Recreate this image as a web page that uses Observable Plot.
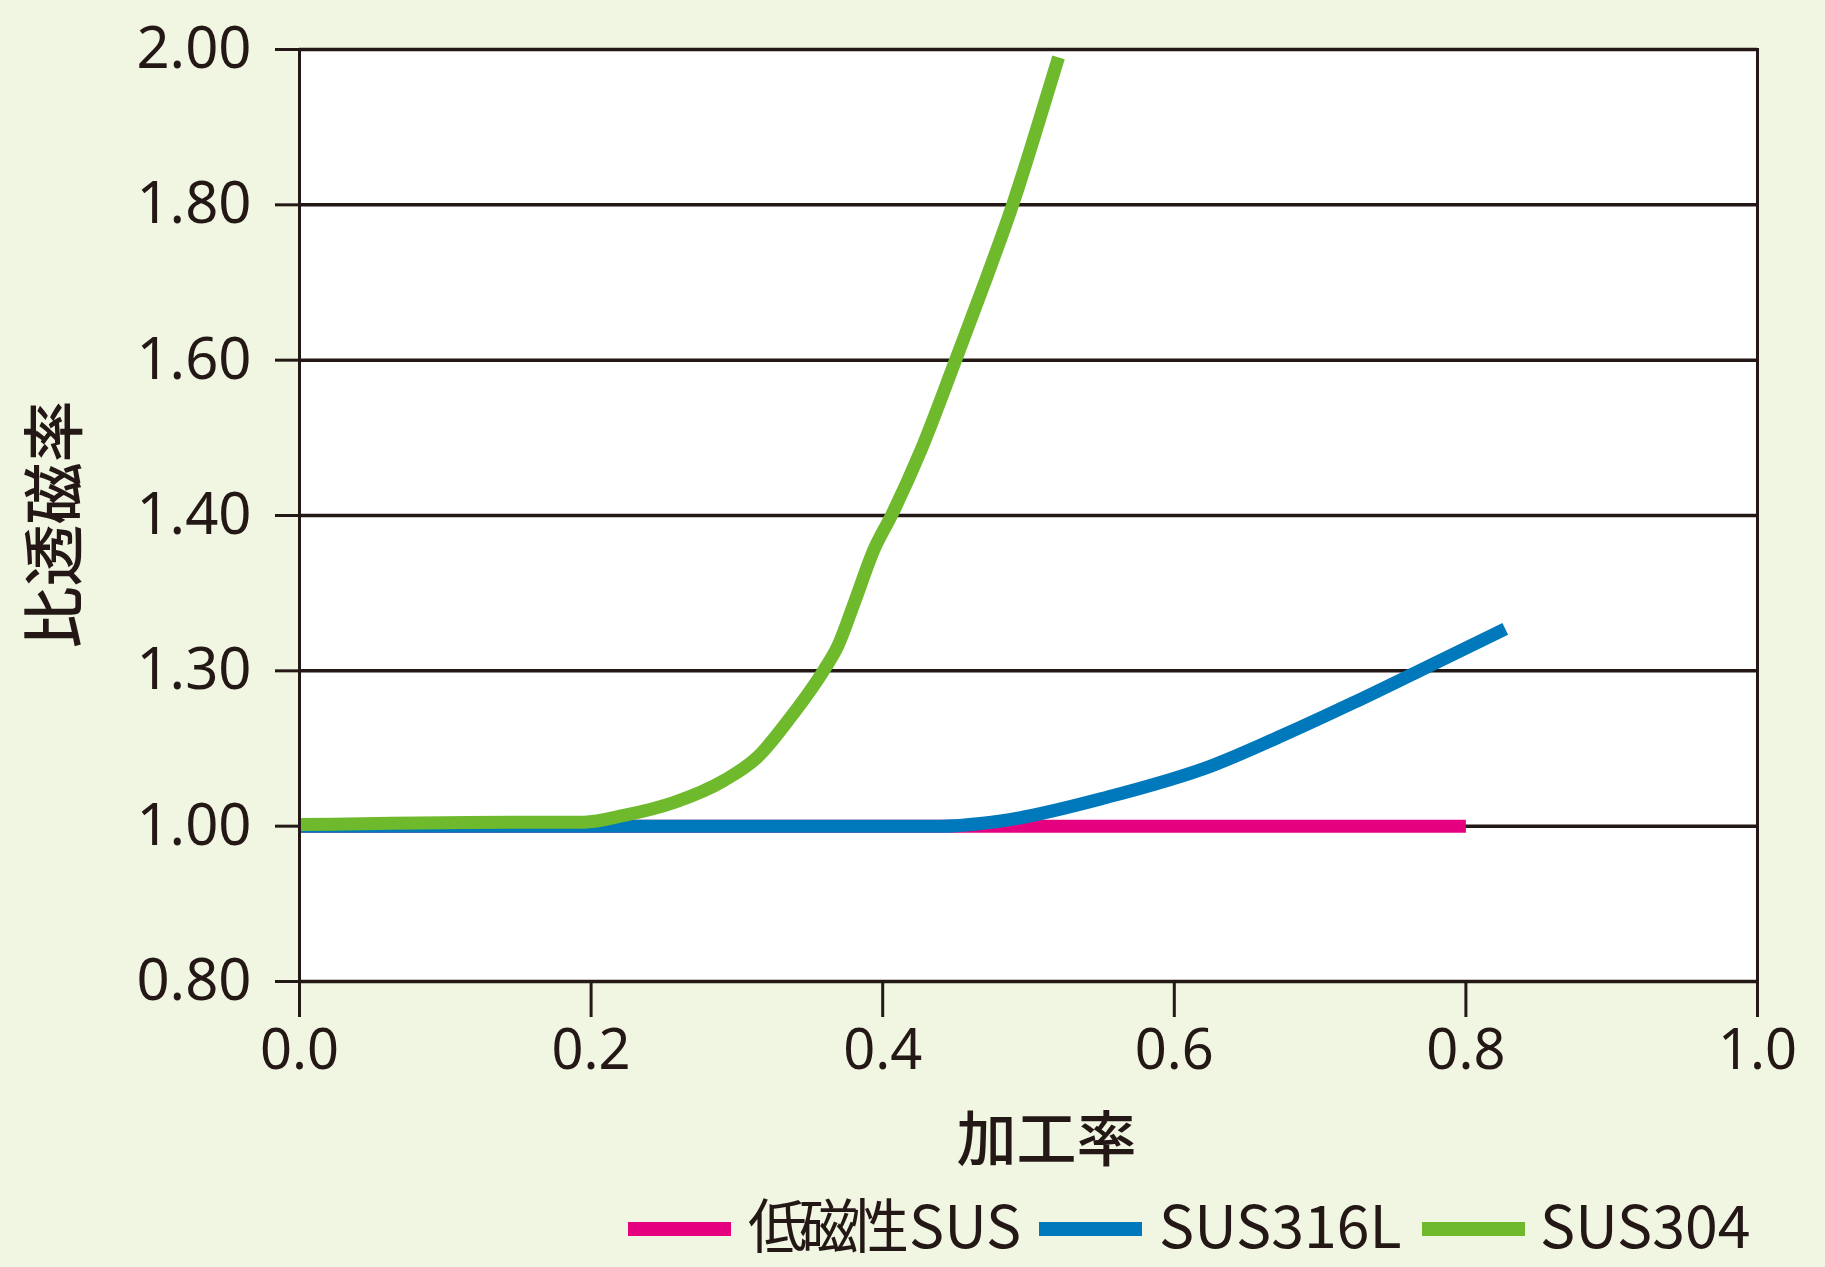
<!DOCTYPE html>
<html>
<head>
<meta charset="utf-8">
<script src="https://cdn.jsdelivr.net/npm/d3@7"></script>
<script src="https://cdn.jsdelivr.net/npm/@observablehq/plot@0.6"></script>
<style>
  html, body { margin: 0; padding: 0; background: #f1f6e2; }
  #wrap { position: relative; width: 1825px; height: 1267px; overflow: hidden; background: #f1f6e2; }
  #chart svg { display: block; overflow: visible; }
  .sw { position: absolute; height: 14px; width: 103px; top: 1222px; }
  .lt { position: absolute; top: 1199px; font-family: "Noto Sans CJK JP", "Noto Sans", sans-serif; font-size: 59px; line-height: 48px; color: #231815; white-space: nowrap; }
  .cjk { letter-spacing: -8px; margin-right: 8px; }
</style>
</head>
<body>
<div id="wrap">
  <div id="chart"></div>
  <div id="legend"></div>
</div>
<script>
// Data
const xTicks = [0, 0.2, 0.4, 0.6, 0.8, 1.0];
const yTicks = [0.80, 1.00, 1.30, 1.40, 1.60, 1.80, 2.00];
const seriesNames = ["低磁性SUS", "SUS316L", "SUS304"];
const seriesColors = ["#e4007f", "#0079bc", "#6fba2c"];

const lowMagX = [0, 0.8];
const lowMagY = [1.00, 1.00];

const sus316LX = [0, 0.44, 0.481, 0.554, 0.626, 0.674, 0.7225, 0.768, 0.827];
const sus316LY = [1.00, 1.00, 1.010, 1.056, 1.117, 1.175, 1.238, 1.300, 1.327];

const sus304X = [0, 0.1655, 0.195, 0.2225, 0.257, 0.291, 0.314, 0.337, 0.36, 0.369, 0.3806, 0.394, 0.406, 0.426, 0.45, 0.47, 0.49, 0.506, 0.5206];
const sus304Y = [1.003, 1.0077, 1.0077, 1.0207, 1.046, 1.088, 1.133, 1.211, 1.301, 1.3155, 1.344, 1.378, 1.40, 1.483, 1.60, 1.70, 1.805, 1.90, 1.99];

const toRows = (xs, ys, s) => xs.map((x, i) => ({x, y: ys[i], s}));
const rows = [
  ...toRows(lowMagX, lowMagY, seriesNames[0]),
  ...toRows(sus316LX, sus316LY, seriesNames[1]),
  ...toRows(sus304X, sus304Y, seriesNames[2])
];

const W = 1825, H = 1190, mL = 299, mR = 68, mT = 49, mB = 209;
const innerH = H - mT - mB;
const yRange = yTicks.map((d, i) => mT + innerH * (1 - i / (yTicks.length - 1)));
const ink = "#231815";

const chart = Plot.plot({
  width: W,
  height: H,
  marginLeft: mL,
  marginRight: mR,
  marginTop: mT,
  marginBottom: mB,
  style: {background: "transparent", fontFamily: "'Noto Sans', sans-serif", color: ink},
  x: {domain: [0, 1]},
  y: {type: "linear", domain: yTicks, range: yRange},
  color: {domain: seriesNames, range: seriesColors},
  marks: [
    Plot.frame({fill: "white", stroke: "none"}),
    Plot.ruleY(yTicks, {stroke: ink, strokeWidth: 3.5}),
    Plot.axisY({ticks: yTicks, tickFormat: d3.format(".2f"), tickSize: 24, tickPadding: 24, fontSize: 58, stroke: ink, strokeWidth: 3, fill: ink, label: null}),
    Plot.axisX({ticks: xTicks, tickFormat: d3.format(".1f"), tickSize: 36, tickPadding: 12, fontSize: 56, stroke: ink, strokeWidth: 3, fill: ink, label: null}),
    Plot.line(rows.filter(d => d.s === seriesNames[0]), {x: "x", y: "y", stroke: "s", strokeWidth: 13, strokeLinecap: "butt", curve: "monotone-x"}),
    Plot.line(rows.filter(d => d.s === seriesNames[1]), {x: "x", y: "y", stroke: "s", strokeWidth: 13, strokeLinecap: "butt", curve: "monotone-x"}),
    Plot.line(rows.filter(d => d.s === seriesNames[2]), {x: "x", y: "y", stroke: "s", strokeWidth: 13, strokeLinecap: "butt", curve: "monotone-x"}),
    Plot.frame({stroke: ink, strokeWidth: 3}),
    Plot.text(["加工率"], {frameAnchor: "bottom", lineAnchor: "middle", textAnchor: "middle", dx: 18, dy: 160, fontSize: 60, fontWeight: 500, fill: ink, fontFamily: "'Noto Sans CJK JP', sans-serif"}),
    Plot.text(["比透磁率"], {frameAnchor: "left", textAnchor: "middle", lineAnchor: "middle", rotate: -90, dx: -242, dy: 9, fontSize: 62, fontWeight: 500, fill: ink, fontFamily: "'Noto Sans CJK JP', sans-serif"})
  ]
});
document.getElementById("chart").appendChild(chart);

// Legend
const legend = document.getElementById("legend");
const swX = [628, 1039, 1422];
const txX = [748, 1159, 1540];
seriesNames.forEach((name, i) => {
  const sw = document.createElement("div");
  sw.className = "sw";
  sw.style.left = swX[i] + "px";
  sw.style.background = seriesColors[i];
  legend.appendChild(sw);
  const t = document.createElement("span");
  t.className = "lt";
  t.style.left = txX[i] + "px";
  const m = name.match(/^([^\x00-\x7f]*)(.*)$/);
  if (m[1]) {
    const c = document.createElement("span");
    c.className = "cjk";
    c.textContent = m[1];
    t.appendChild(c);
  }
  t.appendChild(document.createTextNode(m[2]));
  legend.appendChild(t);
});
</script>
</body>
</html>
